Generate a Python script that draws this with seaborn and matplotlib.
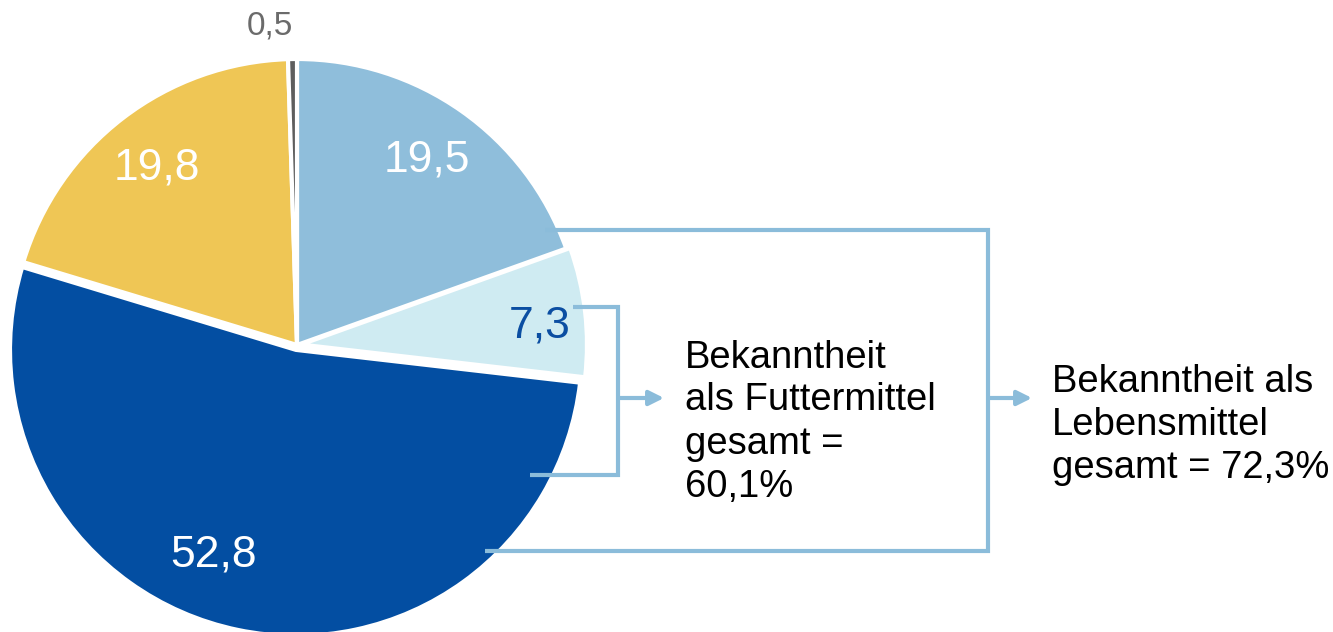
import numpy as np
import matplotlib.pyplot as plt
import seaborn as sns

# slice values (percent), clockwise from 12 o'clock
values = [19.5, 7.3, 52.8, 19.8, 0.5]
slice_colors = ["#8FBEDB", "#CFEBF2", "#034EA2", "#EFC655", "#5E5E5E"]
label_colors = ["white", "#0B4EA2", "white", "white", "#6B6B6B"]
label_dist = [0.79, 0.85, 0.79, 0.79, 1.12]
label_shift = [0, -2, -10, 1, 4]  # degrees
label_size = [32, 32, 32, 32, 24]
explode_px = [0, 4, 5, 0, 0]

futter_text = "Bekanntheit\nals Futtermittel\ngesamt =\n60,1%"
lebens_text = "Bekanntheit als\nLebensmittel\ngesamt = 72,3%"

sns.set_theme(style="white")
plt.rcParams['font.family'] = ['Liberation Sans', 'DejaVu Sans']

W, H = 1333, 632
fig = plt.figure(figsize=(W / 100, H / 100), dpi=100)
ax = fig.add_axes([0, 0, 1, 1])

cx, cy, r = 297, 287, 286
wedges, _ = ax.pie(values, colors=slice_colors, startangle=90, counterclock=False,
                   radius=r, center=(cx, cy), explode=explode_px,
                   wedgeprops=dict(edgecolor="white", linewidth=3))

for w, v, c, d, s, fs in zip(wedges, values, label_colors, label_dist, label_shift, label_size):
    ang = np.deg2rad((w.theta1 + w.theta2) / 2 + s)
    ax.text(cx + d * r * np.cos(ang), cy + d * r * np.sin(ang),
            f"{v:.1f}".replace(".", ","), color=c, fontsize=fs,
            ha="center", va="center")

lc = "#8BBCDA"
lw = 3
# small bracket (Futtermittel)
ax.plot([573, 618, 618, 530], [325, 325, 157, 157], color=lc, lw=lw,
        solid_joinstyle="miter", solid_capstyle="butt")
ax.annotate("", xy=(664, 234), xytext=(618, 234),
            arrowprops=dict(arrowstyle="-|>", color=lc, lw=lw, mutation_scale=22,
                            shrinkA=0, shrinkB=0))
# big bracket (Lebensmittel)
ax.plot([545, 988, 988, 485], [402, 402, 81, 81], color=lc, lw=lw,
        solid_joinstyle="miter", solid_capstyle="butt")
ax.annotate("", xy=(1032, 234), xytext=(988, 234),
            arrowprops=dict(arrowstyle="-|>", color=lc, lw=lw, mutation_scale=22,
                            shrinkA=0, shrinkB=0))

ax.text(685, 210, futter_text, fontsize=27.5, ha="left", va="center",
        color="black", linespacing=1.25)
ax.text(1052, 207, lebens_text, fontsize=27.5, ha="left", va="center",
        color="black", linespacing=1.25)

ax.set_xlim(0, W)
ax.set_ylim(0, H)
ax.set_aspect("auto")
ax.axis("off")

fig.savefig("out.png", dpi=100)
